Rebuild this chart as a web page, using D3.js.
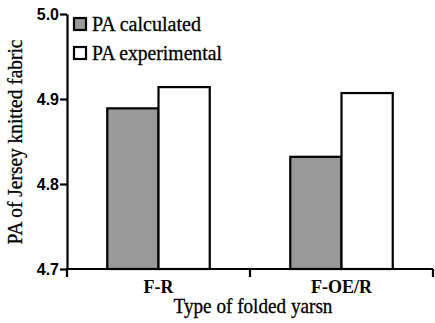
<!DOCTYPE html>
<html>
<head>
<meta charset="utf-8">
<script src="https://cdn.jsdelivr.net/npm/d3@7"></script>
<style>
  html, body { margin: 0; padding: 0; background: #fff; }
  svg { display: block; }
</style>
</head>
<body>
<svg id="chart" width="435" height="323"></svg>
<script>
// Yarn types on the x axis
const categories = ["F-R", "F-OE/R"];
// Series names and their values (PA of the jersey knitted fabric)
const seriesNames = ["PA calculated", "PA experimental"];
const paCalculated = [4.889, 4.832];
const paExperimental = [4.914, 4.907];
const yTicks = [4.7, 4.8, 4.9, 5.0];

const seriesFill = ["#999999", "#ffffff"];
const serif = '"Liberation Serif", "Times New Roman", serif';
const sans = '"Liberation Sans", Arial, sans-serif';

const svg = d3.select("#chart");
const plotLeft = 67, plotRight = 433, plotTop = 14, plotBottom = 269;

// Squeeze a text node horizontally around its anchor so it spans `w` pixels
function fitWidth(sel, w, ax, ay, rot) {
  sel.each(function () {
    const len = this.getComputedTextLength();
    const s = len > 0 ? Math.min(1.2, w / len) : 1;
    d3.select(this).attr("transform",
      `translate(${ax},${ay})${rot ? ` rotate(${rot})` : ""} scale(${s},1)`);
  });
}

const x0 = d3.scaleBand().domain(categories).range([plotLeft, plotRight]).padding(0);
const x1 = d3.scaleBand().domain(seriesNames)
  .range([x0.bandwidth() * 0.22, x0.bandwidth() * 0.78]).padding(0);
const y = d3.scaleLinear().domain([4.7, 5.0]).range([plotBottom, plotTop]);

const rows = categories.map((c, i) => ({
  cat: c,
  vals: [
    { name: seriesNames[0], v: paCalculated[i], fill: seriesFill[0] },
    { name: seriesNames[1], v: paExperimental[i], fill: seriesFill[1] }
  ]
}));

// Bars
svg.append("g").selectAll("g.grp").data(rows).join("g")
  .attr("class", "grp")
  .attr("transform", d => `translate(${x0(d.cat)},0)`)
  .selectAll("rect").data(d => d.vals).join("rect")
  .attr("x", d => x1(d.name))
  .attr("y", d => y(d.v))
  .attr("width", x1.bandwidth())
  .attr("height", d => y(4.7) - y(d.v))
  .attr("fill", d => d.fill)
  .attr("stroke", "#000")
  .attr("stroke-width", 2.2);

// Y axis
const yAxis = svg.append("g")
  .attr("transform", `translate(${plotLeft},0)`)
  .call(d3.axisLeft(y).tickValues(yTicks).tickFormat(d3.format(".1f")).tickSize(7).tickSizeOuter(0));
yAxis.select(".domain").attr("stroke-width", 2.2);
yAxis.selectAll(".tick line").attr("stroke-width", 2.2);
yAxis.selectAll(".tick text")
  .style("font-family", sans).style("font-weight", "bold").style("font-size", "16px")
  .attr("fill", "#000").attr("x", -8);

// X axis: baseline with ticks at the category boundaries
const xAxis = svg.append("g").attr("transform", `translate(0,${plotBottom})`);
xAxis.append("line")
  .attr("x1", plotLeft - 1).attr("x2", plotRight).attr("y1", 0).attr("y2", 0)
  .attr("stroke", "#000").attr("stroke-width", 2.2);
const bounds = categories.map(c => x0(c)).concat([x0(categories[categories.length - 1]) + x0.bandwidth()]);
xAxis.selectAll("line.b").data(bounds).join("line")
  .attr("class", "b")
  .attr("x1", d => d).attr("x2", d => d).attr("y1", 0).attr("y2", 8)
  .attr("stroke", "#000").attr("stroke-width", 2.2);
xAxis.selectAll("text.cat").data(categories).join("text")
  .attr("class", "cat")
  .attr("x", d => x0(d) + x0.bandwidth() / 2)
  .attr("y", 24)
  .attr("text-anchor", "middle")
  .style("font-family", serif).style("font-size", "18px").style("font-weight", "bold")
  .text(d => d);

// Axis titles
svg.append("text")
  .attr("text-anchor", "middle")
  .style("font-family", serif).style("font-size", "20px")
  .attr("stroke", "#000").attr("stroke-width", 0.3)
  .text("Type of folded yarsn")
  .call(fitWidth, 159, (plotLeft + plotRight) / 2 + 3, 313, 0);

svg.append("text")
  .attr("text-anchor", "middle")
  .style("font-family", serif).style("font-size", "20px")
  .attr("stroke", "#000").attr("stroke-width", 0.3)
  .text("PA of Jersey knitted fabric")
  .call(fitWidth, 205, 22, 142, -90);

// Legend
const legendWidths = [109, 130];
const leg = svg.append("g").attr("transform", "translate(74,18)");
const li = leg.selectAll("g").data(seriesNames).join("g")
  .attr("transform", (d, i) => `translate(0,${i * 29})`);
li.append("rect")
  .attr("x", 0).attr("y", 0).attr("width", 12).attr("height", 12)
  .attr("fill", (d, i) => seriesFill[i])
  .attr("stroke", "#000").attr("stroke-width", 2.2);
li.append("text")
  .style("font-family", serif).style("font-size", "20px")
  .attr("stroke", "#000").attr("stroke-width", 0.3)
  .text(d => d)
  .each(function (d, i) { d3.select(this).call(fitWidth, legendWidths[i], 18, 12.5, 0); });
</script>
</body>
</html>
